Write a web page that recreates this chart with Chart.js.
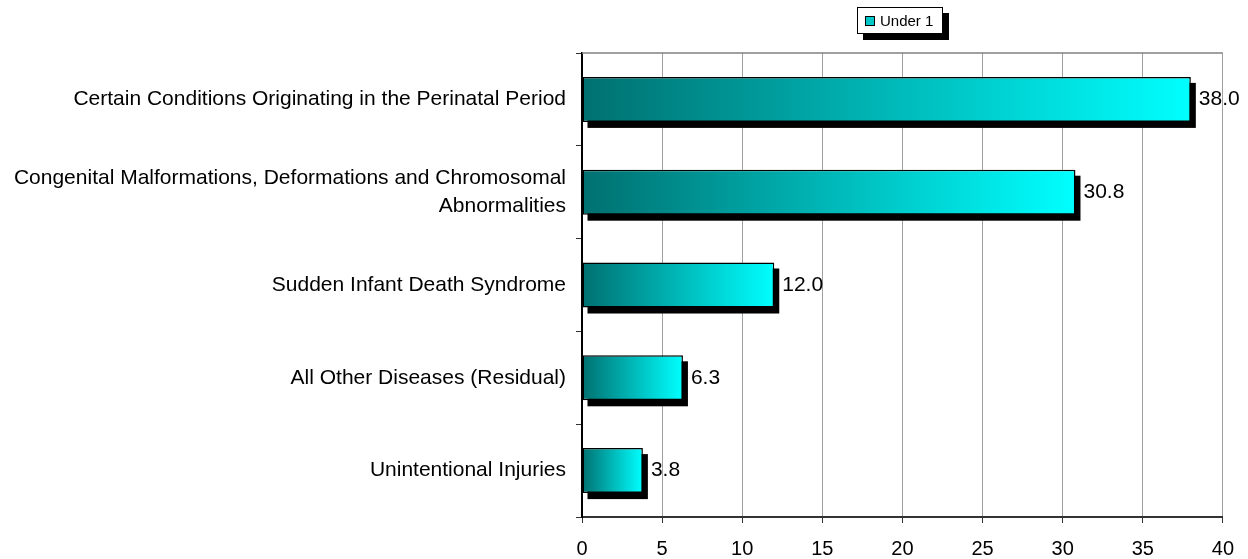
<!DOCTYPE html>
<html>
<head>
<meta charset="utf-8">
<script src="https://cdn.jsdelivr.net/npm/chart.js@4"></script>
<style>
  body { margin: 0; background: #fff; }
  #wrap { position: relative; width: 1248px; height: 559px; }
  #legend {
    position: absolute; left: 857px; top: 7px; width: 86px; height: 27px;
    border: 1px solid #000; background: #fff; box-shadow: 6px 6px 0 #000;
    font: 15px "Liberation Sans", Arial, sans-serif; color: #000;
    display: flex; align-items: center; box-sizing: border-box; padding-left: 7px;
  }
  #legend span.box {
    display: inline-block; width: 8px; height: 8px; border: 1px solid #000;
    background: #00c8c8; margin-right: 5px;
  }
</style>
</head>
<body>
<div id="wrap">
  <canvas id="chart" width="1248" height="559"></canvas>
  <div id="legend"><span class="box"></span>Under 1</div>
</div>
<script>
// donnees
const categories = [
    'Certain Conditions Originating in the Perinatal Period',
    ['Congenital Malformations, Deformations and Chromosomal', 'Abnormalities'],
    'Sudden Infant Death Syndrome',
    'All Other Diseases (Residual)',
    'Unintentional Injuries'
];
const under1 = [38.0, 30.8, 12.0, 6.3, 3.8];
const xTicks = [0, 5, 10, 15, 20, 25, 30, 35, 40];

const font = '"Liberation Sans", Arial, sans-serif';

// ombre noire derriere chaque barre + valeurs
const shadowPlugin = {
    id: 'shadow',
    beforeDatasetsDraw(chart) {
        const ctx = chart.ctx;
        const meta = chart.getDatasetMeta(0);
        ctx.save();
        ctx.fillStyle = '#000';
        meta.data.forEach(bar => {
            const p = bar.getProps(['x', 'y', 'base', 'height'], true);
            ctx.fillRect(p.base + 5, p.y - p.height / 2 + 6, p.x - p.base, p.height);
        });
        ctx.restore();
    },
    afterDatasetsDraw(chart) {
        const ctx = chart.ctx;
        const meta = chart.getDatasetMeta(0);
        ctx.save();
        ctx.fillStyle = '#000';
        ctx.font = '21px ' + font;
        ctx.textBaseline = 'middle';
        ctx.textAlign = 'left';
        meta.data.forEach((bar, i) => {
            const p = bar.getProps(['x', 'y'], true);
            ctx.fillText(under1[i].toFixed(1), p.x + 8, p.y);
        });
        // ligne du haut de la zone de trace
        const a = chart.chartArea;
        ctx.strokeStyle = '#808080';
        ctx.lineWidth = 1.5;
        ctx.beginPath();
        ctx.moveTo(a.left, a.top);
        ctx.lineTo(a.right, a.top);
        ctx.stroke();
        ctx.restore();
    }
};

function barGradient(c) {
    const chart = c.chart;
    if (!chart.chartArea) return '#00aaaa';
    const xs = chart.scales.x;
    const x0 = xs.getPixelForValue(0);
    const x1 = xs.getPixelForValue(c.raw);
    const g = chart.ctx.createLinearGradient(x0, 0, x1, 0);
    g.addColorStop(0, '#007070');
    g.addColorStop(1, '#00ffff');
    return g;
}

const ctx = document.getElementById('chart').getContext('2d');
const chart = new Chart(ctx, {
    type: 'bar',
    data: {
        labels: categories,
        datasets: [{
            label: 'Under 1',
            data: under1,
            backgroundColor: barGradient,
            borderColor: '#000',
            borderWidth: 1.5,
            borderSkipped: false,
            categoryPercentage: 1,
            barPercentage: 0.485
        }]
    },
    options: {
        indexAxis: 'y',
        responsive: false,
        animation: false,
        layout: { padding: { top: 53, right: 20 } },
        plugins: {
            legend: { display: false },
            tooltip: { enabled: false }
        },
        scales: {
            x: {
                min: 0,
                max: 40,
                afterBuildTicks: scale => { scale.ticks = xTicks.map(v => ({ value: v })); },
                afterFit: scale => { scale.height = 42; },
                grid: { color: '#a0a0a0', tickColor: '#333', tickLength: 6, lineWidth: 1 },
                border: { color: '#333', width: 2 },
                ticks: { color: '#000', font: { family: font, size: 20 }, padding: 14 }
            },
            y: {
                afterFit: scale => { scale.width = 582; },
                grid: { drawOnChartArea: false, offset: true, tickColor: '#333', tickLength: 6 },
                border: { color: '#000', width: 2 },
                ticks: { color: '#000', font: { family: font, size: 21, lineHeight: 1.35 }, padding: 10 }
            }
        }
    },
    plugins: [shadowPlugin]
});
</script>
</body>
</html>
